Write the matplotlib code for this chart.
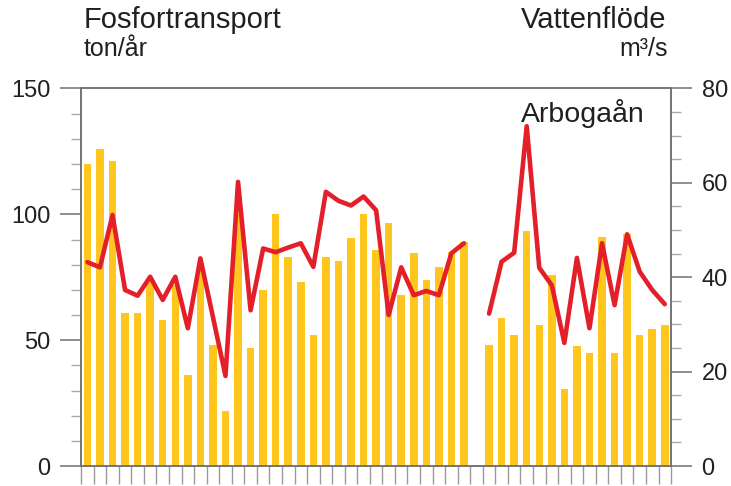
import numpy as np
import matplotlib
matplotlib.use("Agg")
import matplotlib.pyplot as plt
from matplotlib.ticker import MultipleLocator

plt.rcParams["font.family"] = ["Liberation Sans", "DejaVu Sans"]

# ── data ──────────────────────────────────────────────────────────────────
# 47 slots, slot 31 is an empty gap in the series
fosfor = [120, 126, 121, 61, 61, 73, 58, 72, 36, 79,
          48, 22, 100, 47, 70, 100, 83, 73, 52, 83,
          81.5, 90.5, 100, 86, 96.5, 68, 84.5, 74, 79, 85,
          89, np.nan, 48, 59, 52, 93.5, 56, 76, 30.5, 47.5,
          45, 91, 45, 92, 52, 54.5, 56]
flode = [43.2, 42.1, 53.2, 37.3, 36.1, 40.1, 35.2, 40.1, 29.2, 44.0,
         31.6, 19.1, 60.2, 33.0, 46.1, 45.3, 46.3, 47.2, 42.2, 58.1,
         56.2, 55.2, 57.1, 54.2, 32.0, 42.1, 36.2, 37.1, 36.2, 45.1,
         47.2, np.nan, 32.3, 43.3, 45.2, 72.0, 42.0, 38.3, 26.1, 44.1,
         29.2, 47.2, 34.1, 49.1, 41.2, 37.3, 34.3]

yellow = "#FFC61E"
red = "#E3202A"
grey = "#707070"
txt = "#231F20"

x = np.arange(len(fosfor)) + 0.5

fig = plt.figure(figsize=(7.31, 4.86), dpi=100)
ax = fig.add_axes([0.111, 0.041, 0.807, 0.777])
ax2 = ax.twinx()

ax.bar(x, fosfor, width=0.6, color=yellow, zorder=2)
ax2.plot(x, flode, color=red, lw=3.3, solid_joinstyle="round", solid_capstyle="round")

ax.set_xlim(0, len(fosfor))
ax.set_ylim(0, 150)
ax2.set_ylim(0, 80)

ax.yaxis.set_major_locator(MultipleLocator(50))
ax.yaxis.set_minor_locator(MultipleLocator(10))
ax2.yaxis.set_major_locator(MultipleLocator(20))
ax2.yaxis.set_minor_locator(MultipleLocator(5))
ax.set_xticks(np.arange(0, len(fosfor) + 1))
ax.set_xticklabels([])

ax.tick_params(axis="y", which="major", length=15, width=1.1, color=grey,
               labelsize=17, labelcolor=txt, pad=7)
ax.tick_params(axis="y", which="minor", length=7, width=1.0, color="#aaaaaa")
ax2.tick_params(axis="y", which="major", length=15, width=1.1, color=grey,
                labelsize=17, labelcolor=txt, pad=7)
ax2.tick_params(axis="y", which="minor", length=7, width=1.0, color="#aaaaaa")
ax.tick_params(axis="x", length=13, width=1.0, color="#9a9a9a")

for a in (ax, ax2):
    for s in a.spines.values():
        s.set_color(grey)
        s.set_linewidth(1.1)

fig.text(0.114, 0.942, "Fosfortransport", fontsize=21, color=txt, va="baseline")
fig.text(0.114, 0.884, "ton/år", fontsize=18, color=txt, va="baseline")
fig.text(0.912, 0.942, "Vattenflöde", fontsize=21, color=txt, va="baseline", ha="right")
fig.text(0.914, 0.884, "m³/s", fontsize=18, color=txt, va="baseline", ha="right")
fig.text(0.713, 0.748, "Arbogaån", fontsize=20.5, color=txt, va="baseline")

fig.savefig("out.png", dpi=100)
